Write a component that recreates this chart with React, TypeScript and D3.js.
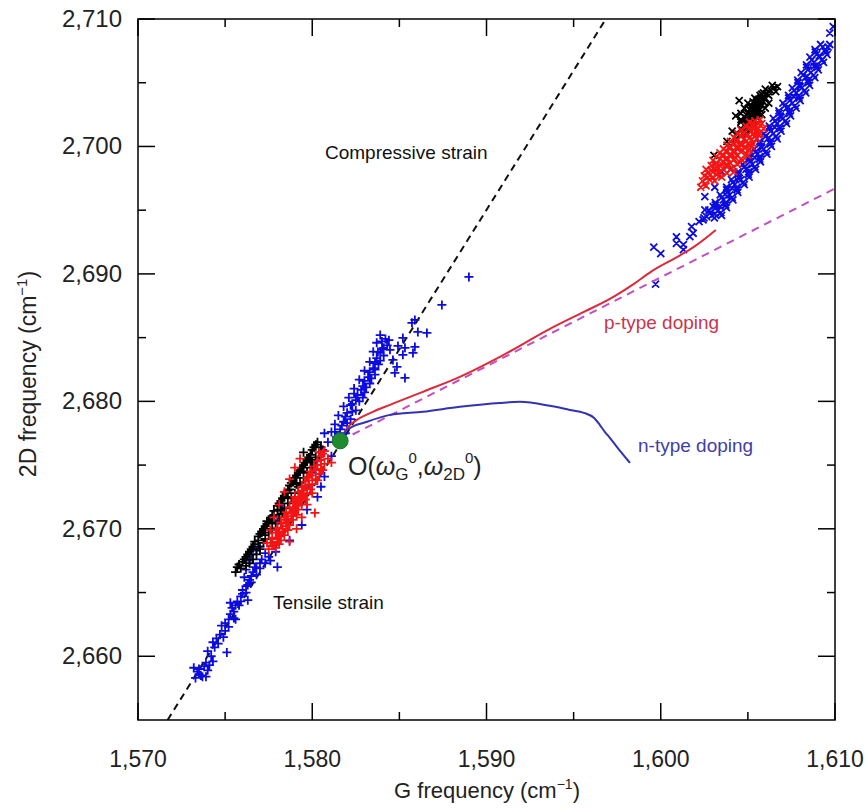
import React from 'react';
import * as d3 from 'd3';

// ---------- axes ----------
const xDomain = [1570, 1610];
const yDomain = [2655, 2710];
const xMajor = [1570, 1580, 1590, 1600, 1610];
const xMinor = [1575, 1585, 1595, 1605];
const yMajor = [2660, 2670, 2680, 2690, 2700, 2710];
const yMinor = [2665, 2675, 2685, 2695, 2705];

// ---------- reference lines ----------
const origin: [number, number] = [1581.6, 2676.9];
const strainLine: [number, number][] = [[1571.7, 2655], [1596.85, 2710]];
const pDopingDashed: [number, number][] = [[1581.6, 2676.9], [1610, 2696.7]];
const pDopingCurve: [number, number][] = [
  [1581.6, 2676.9], [1582.0, 2677.9], [1582.56, 2678.55], [1583.48, 2679.18], [1584.46, 2679.73],
  [1586.35, 2680.75], [1588.47, 2681.92], [1590.77, 2683.49], [1593.64, 2685.69], [1595.59, 2687.02],
  [1597.08, 2688.04], [1598.46, 2689.22], [1599.43, 2690.16], [1601.15, 2691.49], [1601.9, 2692.12], [1603.16, 2693.45],
];
const nDopingCurve: [number, number][] = [
  [1581.6, 2676.9], [1582.0, 2677.77], [1583.14, 2678.4], [1584.46, 2678.94], [1586.35, 2679.18],
  [1588.47, 2679.57], [1590.77, 2679.88], [1591.92, 2679.96], [1593.64, 2679.65], [1594.78, 2679.33],
  [1595.59, 2679.1], [1596.16, 2678.71], [1596.5, 2678.16], [1596.79, 2677.61], [1597.08, 2677.14],
  [1597.48, 2676.43], [1598.23, 2675.18],
];

// ---------- scatter: low-frequency cluster ("+") ----------
const lowBlack: [number, number][] = [
  [1575.9, 2666.9], [1576.2, 2667.1], [1576.0, 2667.4], [1576.4, 2667.3], [1576.2, 2667.8], [1576.6, 2667.6],
  [1576.4, 2668.2], [1576.8, 2668.0], [1576.6, 2668.6], [1577.0, 2668.4], [1576.7, 2669.0], [1577.2, 2668.9],
  [1576.9, 2669.4], [1577.3, 2669.2], [1577.1, 2669.8], [1577.5, 2669.7], [1577.3, 2670.2], [1577.7, 2670.0],
  [1577.5, 2670.6], [1577.9, 2670.4], [1577.7, 2671.0], [1578.1, 2670.9], [1577.8, 2671.4], [1578.3, 2671.2],
  [1578.0, 2671.8], [1578.4, 2671.6], [1578.2, 2672.2], [1578.6, 2672.0], [1578.4, 2672.6], [1578.8, 2672.4],
  [1578.6, 2673.0], [1579.0, 2672.8], [1578.7, 2673.4], [1579.2, 2673.3], [1578.9, 2673.8], [1579.3, 2673.6],
  [1579.1, 2674.2], [1579.5, 2674.0], [1579.3, 2674.6], [1579.7, 2674.4], [1579.5, 2675.0], [1579.9, 2674.8],
  [1579.7, 2675.4], [1580.0, 2675.2], [1579.9, 2675.8], [1580.2, 2675.6], [1580.0, 2676.2], [1580.4, 2676.0],
  [1580.2, 2676.6], [1580.5, 2676.4], [1575.7, 2667.0], [1577.4, 2670.6], [1579.5, 2676.0], [1575.6, 2666.6],
  [1575.8, 2667.2], [1576.1, 2667.6], [1576.3, 2668.0], [1576.5, 2668.4], [1576.7, 2668.8], [1576.9, 2669.1],
  [1577.0, 2669.6], [1577.2, 2670.0], [1577.4, 2670.4], [1577.6, 2670.8], [1577.8, 2671.1], [1578.0, 2671.5],
  [1578.1, 2672.0], [1578.3, 2672.4], [1578.5, 2672.8], [1578.7, 2673.1], [1578.8, 2673.6], [1579.0, 2674.0],
  [1579.2, 2674.4], [1579.4, 2674.8], [1579.6, 2675.2], [1579.8, 2675.6], [1580.1, 2676.4], [1580.3, 2676.8],
  [1576.9, 2668.6], [1577.3, 2669.5], [1577.7, 2670.5], [1578.2, 2671.4], [1578.6, 2672.5], [1579.1, 2673.5],
  [1579.5, 2674.5], [1579.9, 2675.4],
];
const lowRed: [number, number][] = [
  [1577.5, 2668.4], [1577.9, 2668.5], [1577.6, 2668.9], [1578.1, 2668.8], [1577.7, 2669.3], [1578.2, 2669.1],
  [1578.0, 2669.2], [1577.9, 2669.7], [1578.4, 2669.5], [1578.1, 2669.6], [1578.0, 2670.1], [1578.6, 2669.9],
  [1578.3, 2670.0], [1578.2, 2670.5], [1578.7, 2670.3], [1578.5, 2670.4], [1578.4, 2670.9], [1578.9, 2670.7],
  [1578.6, 2670.8], [1578.5, 2671.3], [1579.1, 2671.1], [1578.8, 2671.2], [1578.7, 2671.7], [1579.2, 2671.5],
  [1579.0, 2671.6], [1578.9, 2672.1], [1579.4, 2671.9], [1579.1, 2672.0], [1579.0, 2672.5], [1579.6, 2672.3],
  [1579.3, 2672.4], [1579.2, 2672.9], [1579.7, 2672.7], [1579.5, 2672.8], [1579.4, 2673.3], [1579.9, 2673.1],
  [1579.7, 2673.2], [1579.6, 2673.7], [1580.0, 2673.5], [1579.8, 2674.1], [1580.2, 2673.9], [1579.9, 2674.5],
  [1580.4, 2674.3], [1580.1, 2674.9], [1580.5, 2674.7], [1580.3, 2675.3], [1580.7, 2675.1], [1580.5, 2675.7],
  [1580.9, 2675.5], [1580.7, 2676.1], [1581.1, 2675.2], [1580.15, 2671.25],
  [1577.8, 2668.7], [1578.0, 2669.0], [1578.2, 2669.4], [1578.3, 2669.8], [1578.5, 2670.2], [1578.6, 2670.6],
  [1578.8, 2671.0], [1578.9, 2671.4], [1579.1, 2671.8], [1579.2, 2672.2], [1579.4, 2672.6], [1579.5, 2673.0],
  [1579.6, 2673.4], [1579.8, 2673.8], [1580.0, 2674.2], [1580.2, 2674.6], [1580.3, 2675.0], [1580.5, 2675.4],
  [1580.6, 2675.9], [1577.7, 2668.9], [1578.4, 2670.7], [1579.0, 2672.3], [1579.7, 2674.0], [1580.4, 2676.0],
  [1577.6, 2669.9], [1579.1, 2670.0], [1577.8, 2670.9], [1579.4, 2670.9], [1578.1, 2671.9], [1579.7, 2671.9],
  [1578.4, 2672.9], [1580.0, 2672.8], [1578.7, 2673.9], [1580.3, 2673.8], [1577.4, 2668.9], [1578.7, 2669.0],
  [1579.0, 2674.8], [1580.6, 2674.6], [1579.3, 2675.5],
];
const lowBlue: [number, number][] = [
  [1573.4, 2658.8], [1573.2, 2659.1], [1573.6, 2658.5], [1573.7, 2658.4], [1574.0, 2658.9], [1573.3, 2658.3],
  [1574.1, 2659.3], [1574.0, 2660.4], [1574.3, 2661.1], [1574.7, 2661.7], [1575.1, 2660.3], [1575.2, 2662.3],
  [1575.3, 2663.3], [1575.4, 2663.8], [1575.6, 2662.9], [1575.9, 2664.7], [1576.0, 2665.2], [1576.3, 2664.4],
  [1575.7, 2664.3], [1576.4, 2666.0], [1576.6, 2666.6], [1576.8, 2667.0], [1577.1, 2667.6], [1577.3, 2668.1],
  [1578.0, 2667.0], [1576.3, 2665.6], [1576.1, 2666.2], [1576.7, 2667.0], [1577.5, 2667.8], [1577.9, 2668.2],
  [1575.0, 2662.0], [1575.5, 2663.5], [1575.8, 2664.0], [1576.2, 2665.5], [1576.5, 2666.3], [1577.0, 2667.3],
  [1578.7, 2669.1], [1579.4, 2670.3], [1573.9, 2659.5], [1573.5, 2659.0], [1574.5, 2661.4],
  [1573.5, 2658.6], [1573.8, 2659.2], [1574.2, 2660.0], [1574.4, 2660.7], [1574.6, 2661.0], [1574.9, 2661.5],
  [1575.0, 2662.6], [1575.2, 2662.9], [1575.5, 2663.0], [1575.6, 2664.0], [1575.9, 2664.3], [1576.0, 2664.9],
  [1576.2, 2665.0], [1576.5, 2665.8], [1576.8, 2666.4], [1577.0, 2666.9], [1577.3, 2667.3], [1577.6, 2667.5],
  [1574.8, 2662.4], [1575.3, 2664.2], [1573.9, 2658.4], [1574.3, 2659.6],
  [1576.4, 2667.5], [1576.8, 2668.3], [1576.5, 2668.0], [1577.0, 2668.6], [1576.2, 2666.8], [1578.0, 2670.6],
  [1578.3, 2671.6], [1579.4, 2672.5], [1580.0, 2674.4], [1580.3, 2672.5], [1580.7, 2674.1], [1581.1, 2675.7],
  [1580.6, 2676.2], [1580.7, 2677.5], [1580.9, 2676.8], [1580.4, 2675.6], [1579.8, 2673.4], [1580.2, 2675.0],
  [1580.5, 2673.3], [1579.7, 2671.5],
  [1581.1, 2677.6], [1581.6, 2677.8], [1581.9, 2677.5], [1581.3, 2678.2], [1581.8, 2678.4], [1582.2, 2678.6],
  [1581.5, 2678.9], [1582.0, 2679.1], [1582.5, 2679.3], [1581.8, 2679.6], [1582.3, 2679.8], [1582.7, 2680.0],
  [1582.1, 2680.3], [1582.6, 2680.5], [1583.0, 2680.7], [1582.4, 2681.0], [1582.9, 2681.2], [1583.3, 2681.4],
  [1582.7, 2681.7], [1583.2, 2681.9], [1583.6, 2682.1], [1583.0, 2682.4], [1583.5, 2682.6], [1583.8, 2682.9],
  [1583.3, 2683.1], [1583.7, 2683.4], [1584.1, 2683.6], [1583.5, 2683.9], [1584.0, 2684.1], [1584.3, 2684.4],
  [1583.7, 2684.6], [1584.2, 2684.9], [1583.9, 2685.2],
  [1581.3, 2677.6], [1581.7, 2678.1], [1582.0, 2678.3], [1581.9, 2678.8], [1582.3, 2679.2], [1582.2, 2679.7],
  [1582.5, 2680.1], [1582.9, 2680.3], [1582.8, 2680.9], [1583.1, 2681.1], [1583.0, 2681.6], [1583.4, 2681.8],
  [1583.3, 2682.3], [1583.6, 2682.5], [1583.6, 2683.0], [1583.9, 2683.2], [1583.9, 2683.8], [1584.1, 2684.2],
  [1584.0, 2684.7], [1584.4, 2684.8], [1581.4, 2677.2], [1582.4, 2680.6],
  [1587.44, 2687.57], [1585.89, 2686.39], [1585.72, 2686.16], [1586.06, 2685.45], [1586.58, 2685.37],
  [1585.2, 2684.98], [1584.92, 2684.35], [1585.32, 2684.2], [1585.89, 2684.27], [1585.2, 2683.65],
  [1585.78, 2683.8], [1584.63, 2683.25], [1584.86, 2682.71], [1584.74, 2682.24], [1585.32, 2681.84],
  [1583.77, 2683.88], [1584.46, 2684.04], [1588.99, 2689.76],
];

// ---------- scatter: high-frequency cluster ("x") ----------
const highBlack: [number, number][] = [
  [1604.3, 2700.6], [1604.6, 2700.8], [1604.9, 2700.9], [1604.4, 2701.0], [1604.8, 2701.2], [1605.1, 2701.3],
  [1604.6, 2701.4], [1605.0, 2701.5], [1605.3, 2701.6], [1604.8, 2701.7], [1605.2, 2701.8], [1604.9, 2702.0],
  [1605.4, 2702.0], [1605.1, 2702.2], [1604.8, 2702.3], [1605.5, 2702.3], [1605.2, 2702.5], [1605.0, 2702.6],
  [1605.6, 2702.6], [1605.3, 2702.8], [1605.1, 2702.9], [1605.7, 2702.9], [1605.4, 2703.1], [1605.2, 2703.2],
  [1605.8, 2703.2], [1605.5, 2703.4], [1605.3, 2703.5], [1605.9, 2703.5], [1605.6, 2703.7], [1605.4, 2703.8],
  [1606.0, 2703.8], [1605.7, 2704.0], [1605.9, 2704.2], [1606.1, 2704.1], [1606.3, 2704.4], [1606.0, 2704.5],
  [1606.5, 2704.6], [1604.5, 2703.6], [1604.3, 2702.4], [1604.6, 2702.1], [1603.05, 2699.3], [1606.4, 2704.8],
  [1604.1, 2701.2], [1603.8, 2700.4], [1606.7, 2704.7], [1606.6, 2704.3],
  [1604.7, 2701.0], [1605.0, 2701.7], [1605.3, 2702.1], [1605.5, 2702.7], [1605.7, 2703.3], [1605.9, 2703.9],
  [1606.2, 2704.3], [1604.9, 2701.4], [1605.3, 2702.4], [1605.6, 2703.0], [1605.8, 2703.6], [1606.2, 2704.0],
  [1604.6, 2701.9], [1604.9, 2702.5], [1605.2, 2703.0], [1605.5, 2703.6], [1605.8, 2704.1],
  [1604.8, 2703.0], [1604.6, 2702.6], [1605.0, 2703.4], [1604.9, 2702.2], [1606.2, 2703.4], [1606.0, 2703.0],
  [1605.8, 2702.5],
];
const highRed: [number, number][] = [
  [1602.4, 2697.3], [1602.8, 2697.4], [1602.5, 2697.7], [1603.0, 2697.6], [1602.7, 2697.9], [1603.2, 2697.8],
  [1602.9, 2698.1], [1603.4, 2698.0], [1602.6, 2698.2], [1603.1, 2698.3], [1603.6, 2698.2], [1602.9, 2698.5],
  [1603.4, 2698.5], [1603.8, 2698.4], [1603.2, 2698.7], [1603.6, 2698.8], [1603.0, 2698.9], [1604.0, 2698.7],
  [1603.4, 2699.0], [1603.8, 2699.1], [1603.2, 2699.2], [1604.2, 2699.0], [1603.6, 2699.3], [1604.0, 2699.4],
  [1603.4, 2699.5], [1604.4, 2699.3], [1603.8, 2699.6], [1604.2, 2699.7], [1603.6, 2699.8], [1604.6, 2699.6],
  [1604.0, 2699.9], [1604.4, 2700.0], [1603.8, 2700.1], [1604.8, 2699.9], [1604.2, 2700.2], [1604.6, 2700.3],
  [1604.0, 2700.4], [1605.0, 2700.2], [1604.4, 2700.5], [1604.8, 2700.6], [1604.2, 2700.7], [1605.2, 2700.5],
  [1604.6, 2700.8], [1605.0, 2700.9], [1604.4, 2701.0], [1605.4, 2700.8], [1604.8, 2701.1], [1605.2, 2701.2],
  [1604.6, 2701.3], [1605.5, 2701.1], [1605.0, 2701.4], [1605.4, 2701.5], [1604.9, 2701.6], [1605.6, 2701.4],
  [1605.2, 2701.7], [1605.6, 2701.8], [1605.1, 2701.9], [1605.8, 2701.8], [1605.4, 2702.0], [1605.7, 2702.1],
  [1602.3, 2696.8], [1602.6, 2696.9], [1603.1, 2697.3],
  [1602.7, 2697.6], [1603.0, 2698.0], [1603.3, 2698.3], [1603.5, 2698.6], [1603.7, 2699.0], [1604.0, 2699.2],
  [1604.2, 2699.5], [1604.4, 2699.8], [1604.6, 2700.1], [1604.9, 2700.4], [1605.1, 2700.7], [1605.3, 2701.0],
  [1605.5, 2701.3], [1605.4, 2701.7], [1603.1, 2698.6], [1603.5, 2699.3], [1603.9, 2699.9], [1604.3, 2700.4],
  [1604.7, 2701.0], [1605.1, 2701.5], [1603.3, 2697.9], [1603.8, 2698.6], [1604.3, 2699.1], [1604.7, 2699.7],
  [1605.1, 2700.1], [1605.5, 2700.6],
  [1603.5, 2697.6], [1603.8, 2697.9], [1604.1, 2698.3], [1604.4, 2698.6], [1604.6, 2699.0], [1604.9, 2699.4],
  [1605.1, 2699.8], [1605.3, 2700.2], [1605.5, 2700.6], [1605.7, 2701.0], [1605.9, 2701.4], [1604.2, 2698.0],
  [1604.7, 2698.9], [1605.0, 2699.3], [1605.2, 2700.0], [1605.6, 2700.9],
];
const highBlue: [number, number][] = [
  [1599.7, 2689.2], [1599.6, 2692.1], [1600.0, 2691.6], [1600.9, 2692.9], [1600.9, 2692.4], [1601.3, 2692.3],
  [1601.3, 2691.9], [1601.77, 2693.71], [1601.86, 2693.19], [1601.67, 2692.93], [1602.43, 2694.24], [1602.63, 2694.5],
  [1602.53, 2695.02], [1602.53, 2696.06], [1603.01, 2695.28], [1609.7, 2708.9], [1609.9, 2709.4], [1603.1, 2696.8],
  [1603.5, 2698.0], [1604.0, 2698.2], [1602.2, 2694.1],
  [1602.48, 2694.4], [1603.08, 2694.4], [1602.94, 2694.6], [1603.49, 2694.6], [1602.85, 2694.8], [1603.45, 2694.8],
  [1603.31, 2695.0], [1602.76, 2695.0], [1603.17, 2695.2], [1603.77, 2695.2], [1603.73, 2695.4], [1603.13, 2695.4],
  [1603.13, 2695.6], [1603.73, 2695.6], [1603.59, 2695.8], [1604.14, 2695.8], [1603.5, 2696.0], [1604.1, 2696.0],
  [1603.96, 2696.2], [1603.41, 2696.2], [1603.82, 2696.4], [1604.42, 2696.4], [1604.38, 2696.6], [1603.78, 2696.6],
  [1603.78, 2696.8], [1604.38, 2696.8], [1604.24, 2697.0], [1604.79, 2697.0], [1604.15, 2697.2], [1604.75, 2697.2],
  [1604.61, 2697.4], [1604.06, 2697.4], [1604.47, 2697.6], [1605.07, 2697.6], [1605.03, 2697.8], [1604.43, 2697.8],
  [1604.44, 2698.0], [1605.04, 2698.0], [1604.89, 2698.2], [1605.44, 2698.2], [1604.8, 2698.4], [1605.4, 2698.4],
  [1605.26, 2698.6], [1604.71, 2698.6], [1605.12, 2698.8], [1605.72, 2698.8], [1605.68, 2699.0], [1605.08, 2699.0],
  [1605.08, 2699.2], [1605.68, 2699.2], [1605.54, 2699.4], [1606.09, 2699.4], [1605.45, 2699.6], [1606.05, 2699.6],
  [1605.91, 2699.8], [1605.36, 2699.8], [1605.75, 2700.0], [1606.35, 2700.0], [1606.29, 2700.2], [1605.69, 2700.2],
  [1605.68, 2700.4], [1606.28, 2700.4], [1606.13, 2700.6], [1606.68, 2700.6], [1606.02, 2700.8], [1606.62, 2700.8],
  [1606.46, 2701.0], [1605.91, 2701.0], [1606.3, 2701.2], [1606.9, 2701.2], [1606.84, 2701.4], [1606.24, 2701.4],
  [1606.23, 2701.6], [1606.83, 2701.6], [1606.67, 2701.8], [1607.22, 2701.8], [1606.57, 2702.0], [1607.17, 2702.0],
  [1607.01, 2702.2], [1606.46, 2702.2], [1606.85, 2702.4], [1607.45, 2702.4], [1607.39, 2702.6], [1606.79, 2702.6],
  [1606.78, 2702.8], [1607.38, 2702.8], [1607.22, 2703.0], [1607.77, 2703.0], [1607.11, 2703.2], [1607.71, 2703.2],
  [1607.56, 2703.4], [1607.01, 2703.4], [1607.4, 2703.6], [1608.0, 2703.6], [1607.94, 2703.8], [1607.34, 2703.8],
  [1607.33, 2704.0], [1607.93, 2704.0], [1607.77, 2704.2], [1608.32, 2704.2], [1607.66, 2704.4], [1608.26, 2704.4],
  [1608.1, 2704.6], [1607.55, 2704.6], [1607.94, 2704.8], [1608.54, 2704.8], [1608.47, 2705.0], [1607.87, 2705.0],
  [1607.86, 2705.2], [1608.46, 2705.2], [1608.29, 2705.4], [1608.84, 2705.4], [1608.17, 2705.6], [1608.77, 2705.6],
  [1608.61, 2705.8], [1608.06, 2705.8], [1608.44, 2706.0], [1609.04, 2706.0], [1608.97, 2706.2], [1608.37, 2706.2],
  [1608.36, 2706.4], [1608.96, 2706.4], [1608.79, 2706.6], [1609.34, 2706.6], [1608.67, 2706.8], [1609.27, 2706.8],
  [1609.11, 2707.0], [1608.56, 2707.0], [1608.94, 2707.2], [1609.54, 2707.2], [1609.47, 2707.4], [1608.87, 2707.4],
  [1608.85, 2707.6], [1609.45, 2707.6], [1609.29, 2707.8], [1609.6, 2707.8], [1609.17, 2708.0], [1609.7, 2708.0],
  [1603.1, 2694.7], [1603.4, 2695.3], [1603.8, 2696.1], [1604.1, 2696.7], [1604.5, 2697.5], [1604.95, 2698.3],
  [1605.4, 2699.1], [1605.8, 2699.9], [1606.2, 2700.7], [1606.55, 2701.5], [1606.9, 2702.3], [1607.3, 2703.1],
  [1607.65, 2703.9], [1608.0, 2704.7], [1608.4, 2705.5], [1608.8, 2706.3], [1609.1, 2707.1],
];

const BLUE = '#0c0ce0';
const RED = '#f41414';
const BLACK = '#000000';

const W = 865;
const H = 808;
const L = 138, R = 835, T = 19, B = 720;

const x = d3.scaleLinear().domain(xDomain).range([L, R]);
const y = d3.scaleLinear().domain(yDomain).range([B, T]);
const fmt = d3.format(',');

function plusPath(pts: [number, number][], r: number) {
  return pts
    .map(([a, b]) => {
      const px = x(a), py = y(b);
      return `M${px - r},${py}H${px + r}M${px},${py - r}V${py + r}`;
    })
    .join('');
}
function crossPath(pts: [number, number][], r: number) {
  return pts
    .map(([a, b]) => {
      const px = x(a), py = y(b);
      return `M${px - r},${py - r}L${px + r},${py + r}M${px - r},${py + r}L${px + r},${py - r}`;
    })
    .join('');
}

export default function App() {
  const line = d3.line<[number, number]>().x((d) => x(d[0])).y((d) => y(d[1]));
  const curve = d3
    .line<[number, number]>()
    .x((d) => x(d[0]))
    .y((d) => y(d[1]))
    .curve(d3.curveMonotoneX);
  const font = "'Liberation Sans', Arial, Helvetica, sans-serif";
  const majorLen = 17, minorLen = 8;
  const pr = 4.5, cr = 3.5, sw = 1.8;

  return (
    <svg
      width={W}
      height={H}
      viewBox={`0 0 ${W} ${H}`}
      style={{ position: 'absolute', left: 0, top: 0, background: '#fff' }}
      fontFamily={font}
    >
      <rect x={0} y={0} width={W} height={H} fill="#fff" />
      <defs>
        <clipPath id="plot">
          <rect x={L} y={T} width={R - L} height={B - T} />
        </clipPath>
      </defs>

      <g clipPath="url(#plot)">
        <path d={line(strainLine) || ''} stroke="#111" strokeWidth={2} strokeDasharray="7,5" fill="none" />
        <path d={plusPath(lowBlue, pr)} stroke={BLUE} strokeWidth={sw} fill="none" />
        <path d={plusPath(lowBlack, pr)} stroke={BLACK} strokeWidth={sw} fill="none" />
        <path d={plusPath(lowRed, pr)} stroke={RED} strokeWidth={sw} fill="none" />
        <path d={crossPath(highBlue, cr)} stroke={BLUE} strokeWidth={sw} fill="none" />
        <path d={crossPath(highBlack, cr)} stroke={BLACK} strokeWidth={sw} fill="none" />
        <path d={crossPath(highRed, cr)} stroke={RED} strokeWidth={sw} fill="none" />
        <path d={line(pDopingDashed) || ''} stroke="#c24fc2" strokeWidth={2} strokeDasharray="8,6" fill="none" />
        <path d={curve(pDopingCurve) || ''} stroke="#dc2a3a" strokeWidth={2} fill="none" />
        <path d={curve(nDopingCurve) || ''} stroke="#3232b4" strokeWidth={2} fill="none" />
        <circle cx={x(origin[0])} cy={y(origin[1])} r={8} fill="#1e8c2e" stroke="#17702a" strokeWidth={1} />
      </g>

      <rect x={L} y={T} width={R - L} height={B - T} fill="none" stroke="#000" strokeWidth={1.5} />

      <g stroke="#000" strokeWidth={1.5}>
        {xMajor.map((v) => (
          <g key={'xm' + v}>
            <line x1={x(v)} x2={x(v)} y1={B} y2={B - majorLen} />
            <line x1={x(v)} x2={x(v)} y1={T} y2={T + majorLen} />
          </g>
        ))}
        {xMinor.map((v) => (
          <g key={'xn' + v}>
            <line x1={x(v)} x2={x(v)} y1={B} y2={B - minorLen} />
            <line x1={x(v)} x2={x(v)} y1={T} y2={T + minorLen} />
          </g>
        ))}
        {yMajor.map((v) => (
          <g key={'ym' + v}>
            <line x1={L} x2={L + majorLen} y1={y(v)} y2={y(v)} />
            <line x1={R} x2={R - majorLen} y1={y(v)} y2={y(v)} />
          </g>
        ))}
        {yMinor.map((v) => (
          <g key={'yn' + v}>
            <line x1={L} x2={L + minorLen} y1={y(v)} y2={y(v)} />
            <line x1={R} x2={R - minorLen} y1={y(v)} y2={y(v)} />
          </g>
        ))}
      </g>

      <g fill="#222">
        {xMajor.map((v) => (
          <text key={'xl' + v} x={x(v)} y={767} textAnchor="middle" fontSize={23}>
            {fmt(v)}
          </text>
        ))}
        {yMajor.map((v) => (
          <text key={'yl' + v} x={122} y={y(v) + 8} textAnchor="end" fontSize={24}>
            {fmt(v)}
          </text>
        ))}
      </g>

      <text x={487} y={798} textAnchor="middle" fontSize={22} fill="#222">
        G frequency (cm<tspan fontSize={14} dy={-9}>−1</tspan>
        <tspan dy={9}>)</tspan>
      </text>
      <text transform="translate(36,374) rotate(-90)" textAnchor="middle" fontSize={23} fill="#222">
        2D frequency (cm<tspan fontSize={15} dy={-9}>−1</tspan>
        <tspan dy={9}>)</tspan>
      </text>

      <text x={325} y={159} fontSize={19} fill="#111">Compressive strain</text>
      <text x={273} y={609} fontSize={19} fill="#111">Tensile strain</text>
      <text x={604} y={329} fontSize={19} fill="#c8364e">p-type doping</text>
      <text x={638} y={452} fontSize={19} fill="#4040a8">n-type doping</text>

      <text x={348} y={475} fontSize={25} fill="#222">
        O(<tspan fontStyle="italic">ω</tspan>
        <tspan fontSize={17} dy={5}>G</tspan>
        <tspan fontSize={15} dy={-17}>0</tspan>
        <tspan dy={12}>,</tspan>
        <tspan fontStyle="italic">ω</tspan>
        <tspan fontSize={17} dy={5}>2D</tspan>
        <tspan fontSize={15} dy={-17}>0</tspan>
        <tspan dy={12}>)</tspan>
      </text>
    </svg>
  );
}
